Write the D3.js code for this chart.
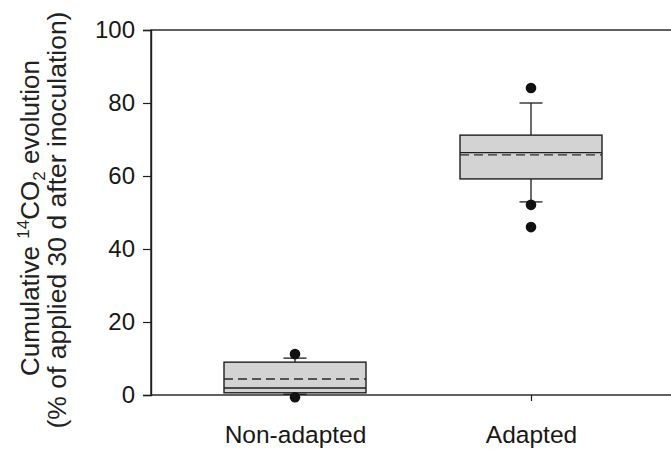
<!DOCTYPE html>
<html>
<head>
<meta charset="utf-8">
<script src="https://cdn.jsdelivr.net/npm/d3@7"></script>
<style>
  html, body { margin: 0; padding: 0; background: #fff; }
  svg { display: block; font-family: "Liberation Sans", Arial, Helvetica, sans-serif; }
</style>
</head>
<body>
<svg id="chart" width="671" height="449"></svg>
<script>
// ---- data ----
const categories = ["Non-adapted", "Adapted"];
const q1Values      = [0.6, 59.2];
const medianValues  = [1.9, 66.4];
const meanValues    = [4.4, 65.8];
const q3Values      = [9.0, 71.2];
const whiskerLow    = [0.2, 52.9];
const whiskerHigh   = [10.1, 80.0];
const outlierValues = [[11.2, -0.6], [84.1, 52.1, 46.0]];
const yTicks = [0, 20, 40, 60, 80, 100];

// ---- layout ----
const svg = d3.select("#chart");
const plotLeft = 151, plotTop = 30, plotBottom = 395, plotRight = 690;
const y = d3.scaleLinear().domain([0, 100]).range([plotBottom, plotTop]);
const x = d3.scalePoint().domain(categories).range([295, 531]);
const boxW = 142, capW = 23;
const ink = "#1e1e1e";

// frame
const g = svg.append("g");
g.append("rect")
  .attr("x", plotLeft).attr("y", plotTop)
  .attr("width", plotRight - plotLeft).attr("height", plotBottom - plotTop)
  .attr("fill", "none").attr("stroke", ink).attr("stroke-width", 1.4);

// y axis
const yAxis = g.append("g")
  .attr("transform", `translate(${plotLeft},0)`)
  .call(d3.axisLeft(y).tickValues(yTicks).tickSize(8).tickPadding(8));
yAxis.select(".domain").attr("stroke", ink).attr("stroke-width", 1.4);
yAxis.selectAll(".tick line").attr("stroke", ink).attr("stroke-width", 1.2);
yAxis.selectAll(".tick text").attr("font-size", 24).attr("fill", "#181818")
  .attr("font-family", "Liberation Sans, Arial, sans-serif");

// x axis
const xAxis = g.append("g")
  .attr("transform", `translate(0,${plotBottom})`)
  .call(d3.axisBottom(x).tickSize(6).tickPadding(25));
xAxis.select(".domain").remove();
xAxis.selectAll(".tick line").attr("stroke", ink).attr("stroke-width", 1.2);
xAxis.selectAll(".tick text").attr("font-size", 24.5).attr("fill", "#181818")
  .attr("font-family", "Liberation Sans, Arial, sans-serif");

// boxes
categories.forEach((c, i) => {
  const cx = x(c);
  const bg = g.append("g");
  // whiskers
  bg.append("line").attr("x1", cx).attr("x2", cx)
    .attr("y1", y(q3Values[i])).attr("y2", y(whiskerHigh[i]))
    .attr("stroke", ink).attr("stroke-width", 1.3);
  bg.append("line").attr("x1", cx).attr("x2", cx)
    .attr("y1", y(q1Values[i])).attr("y2", y(whiskerLow[i]))
    .attr("stroke", ink).attr("stroke-width", 1.3);
  [whiskerHigh[i], whiskerLow[i]].forEach(v => {
    bg.append("line").attr("x1", cx - capW / 2).attr("x2", cx + capW / 2)
      .attr("y1", y(v)).attr("y2", y(v))
      .attr("stroke", ink).attr("stroke-width", 1.3);
  });
  // box
  bg.append("rect")
    .attr("x", cx - boxW / 2).attr("width", boxW)
    .attr("y", y(q3Values[i])).attr("height", y(q1Values[i]) - y(q3Values[i]))
    .attr("fill", "#d3d3d3").attr("stroke", ink).attr("stroke-width", 1.4);
  // median
  bg.append("line").attr("x1", cx - boxW / 2).attr("x2", cx + boxW / 2)
    .attr("y1", y(medianValues[i])).attr("y2", y(medianValues[i]))
    .attr("stroke", ink).attr("stroke-width", 1.4);
  // mean (dashed)
  bg.append("line").attr("x1", cx - boxW / 2).attr("x2", cx + boxW / 2)
    .attr("y1", y(meanValues[i])).attr("y2", y(meanValues[i]))
    .attr("stroke", "#2a2a2a").attr("stroke-width", 1.4)
    .attr("stroke-dasharray", "9,5");
  // outliers
  outlierValues[i].forEach(v => {
    bg.append("circle").attr("cx", cx).attr("cy", y(v)).attr("r", 5.3)
      .attr("fill", "#111");
  });
});

// y title
const title = svg.append("text")
  .attr("transform", `translate(39,218) rotate(-90)`)
  .attr("text-anchor", "middle")
  .attr("font-size", 26).attr("fill", "#222")
  .attr("font-family", "Liberation Sans, Arial, sans-serif");
title.append("tspan").text("Cumulative ");
title.append("tspan").attr("font-size", 17).attr("dy", -10).text("14");
title.append("tspan").attr("dy", 10).text("CO");
title.append("tspan").attr("font-size", 17).attr("dy", 6).text("2");
title.append("tspan").attr("dy", -6).text(" evolution");

svg.append("text")
  .attr("transform", `translate(66,220) rotate(-90)`)
  .attr("text-anchor", "middle")
  .attr("font-size", 26.5).attr("fill", "#222")
  .attr("font-family", "Liberation Sans, Arial, sans-serif")
  .text("(% of applied 30 d after inoculation)");
</script>
</body>
</html>
